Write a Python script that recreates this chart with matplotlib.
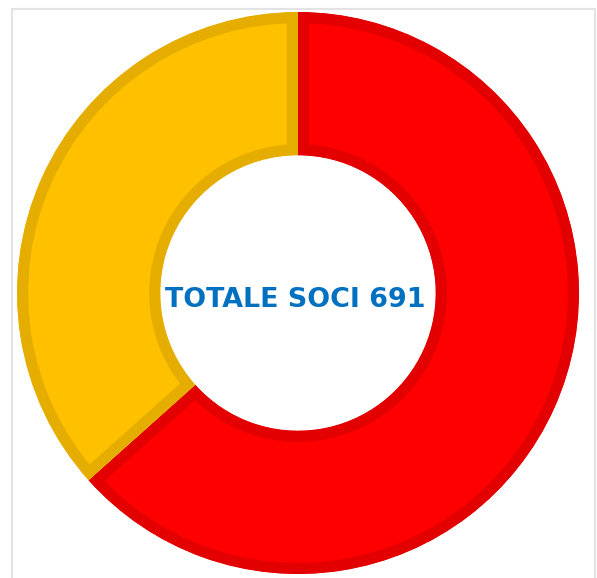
import matplotlib
matplotlib.use('Agg')
import matplotlib.pyplot as plt
from matplotlib.patches import Rectangle

# data
labels = ['Soci A', 'Soci B']
values = [438, 253]
colors = ['#FF0000', '#FFC000']
edge_colors = ['#E20000', '#E5AD00']
total = sum(values)

W, H = 597, 578
fig = plt.figure(figsize=(W / 100, H / 100), dpi=100)

# light frame around the chart
fig.patches.append(Rectangle((12 / W, -0.05), 583 / W, 1 - 9 / H + 0.05,
                             transform=fig.transFigure, fill=False,
                             edgecolor='#E3E3E3', linewidth=1.5))

# donut
cx, cy, r = 298, 578 - 293, 281
ax = fig.add_axes([(cx - r) / W, (cy - r) / H, 2 * r / W, 2 * r / H])
wedges, _ = ax.pie(values, colors=colors, startangle=90, counterclock=False,
                   radius=1, wedgeprops=dict(width=0.51, linewidth=16))
for w, ec in zip(wedges, edge_colors):
    w.set_edgecolor(ec)
    w.set_clip_on(True)
    w.set_clip_path(w)
ax.set_xlim(-1, 1)
ax.set_ylim(-1, 1)
ax.axis('off')

fig.text(295 / W, 1 - 300 / H, 'TOTALE SOCI ' + str(total), ha='center', va='center',
         fontsize=19.4, fontweight='bold', color='#0070C0', family='DejaVu Sans')

fig.savefig('out.png', dpi=100)
